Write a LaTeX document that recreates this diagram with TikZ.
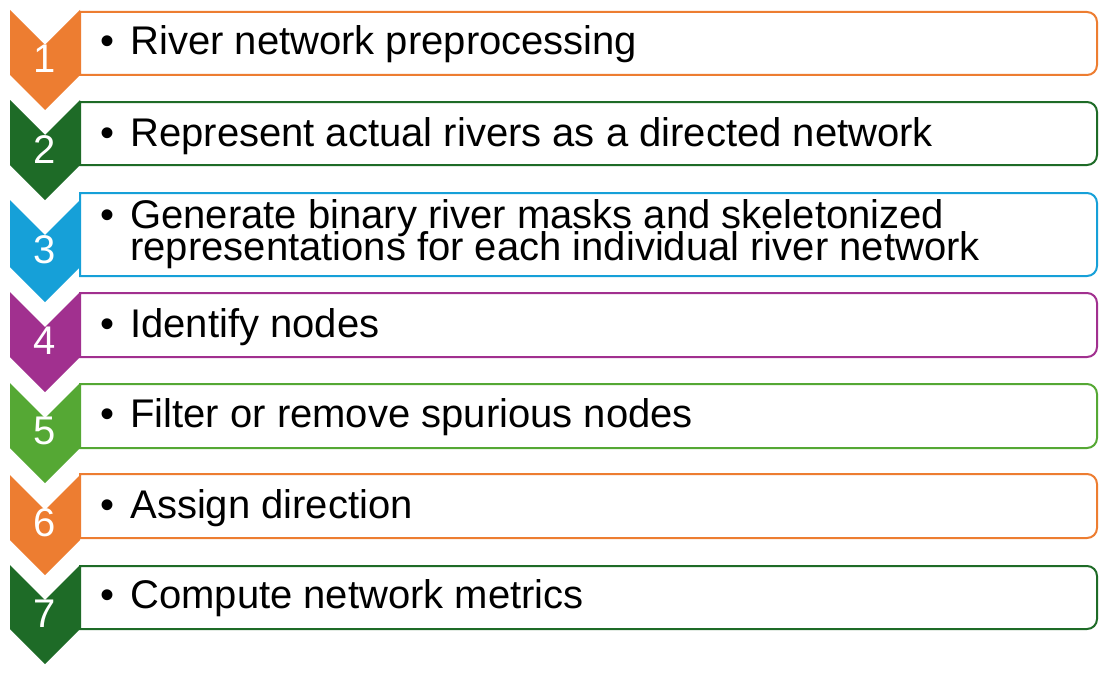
\documentclass[tikz,border=0pt]{standalone}
\usepackage{fontspec}
\setmainfont{Liberation Sans}
\usepackage{xcolor}
\usetikzlibrary{positioning}

\definecolor{stepOrange}{HTML}{ED7D31}
\definecolor{stepDarkGreen}{HTML}{1E6B27}
\definecolor{stepBlue}{HTML}{16A0D8}
\definecolor{stepPurple}{HTML}{A1308F}
\definecolor{stepGreen}{HTML}{55A834}

\newcommand{\stepfont}{\fontsize{20}{16}\selectfont\setlength{\lineskiplimit}{-100pt}}
\newcommand{\stepbullet}{\llap{\textbullet\hspace{8pt}}}

\tikzset{
  chevron/.style={fill=#1},
  stepbox/.style={draw=#1, line width=1pt, fill=white},
  stepnum/.style={text=white, anchor=base, inner sep=0pt, font=\fontsize{20}{20}\selectfont},
  steptext/.style={anchor=base west, align=left, inner sep=0pt, font=\stepfont},
}

\begin{document}
\begin{tikzpicture}[x=0.5pt, y=-0.5pt]
  \useasboundingbox (0,0) rectangle (1106,674);
  % boxes
  \draw[stepbox=stepOrange]    (80,12)  -- (1000,12)  [rounded corners=5pt] -- (1097,12)  -- (1097,75)  -- (1000,75)  [sharp corners] -- (80,75)  -- cycle;
  \draw[stepbox=stepDarkGreen] (80,102) -- (1000,102) [rounded corners=5pt] -- (1097,102) -- (1097,165) -- (1000,165) [sharp corners] -- (80,165) -- cycle;
  \draw[stepbox=stepBlue]      (80,193) -- (1000,193) [rounded corners=5pt] -- (1097,193) -- (1097,276) -- (1000,276) [sharp corners] -- (80,276) -- cycle;
  \draw[stepbox=stepPurple]    (80,293) -- (1000,293) [rounded corners=5pt] -- (1097,293) -- (1097,357) -- (1000,357) [sharp corners] -- (80,357) -- cycle;
  \draw[stepbox=stepGreen]     (80,384) -- (1000,384) [rounded corners=5pt] -- (1097,384) -- (1097,448) -- (1000,448) [sharp corners] -- (80,448) -- cycle;
  \draw[stepbox=stepOrange]    (80,474) -- (1000,474) [rounded corners=5pt] -- (1097,474) -- (1097,538) -- (1000,538) [sharp corners] -- (80,538) -- cycle;
  \draw[stepbox=stepDarkGreen] (80,566) -- (1000,566) [rounded corners=5pt] -- (1097,566) -- (1097,629) -- (1000,629) [sharp corners] -- (80,629) -- cycle;
  % chevrons
  \fill[chevron=stepOrange]    (10,10)  -- (45,45)  -- (80,10)  -- (80,75)  -- (45,110) -- (10,75)  -- cycle;
  \fill[chevron=stepDarkGreen] (10,100) -- (45,135) -- (80,100) -- (80,165) -- (45,200) -- (10,165) -- cycle;
  \fill[chevron=stepBlue]      (10,200) -- (45,235) -- (80,200) -- (80,267) -- (45,302) -- (10,267) -- cycle;
  \fill[chevron=stepPurple]    (10,292) -- (45,327) -- (80,292) -- (80,357) -- (45,392) -- (10,357) -- cycle;
  \fill[chevron=stepGreen]     (10,383) -- (45,418) -- (80,383) -- (80,448) -- (45,483) -- (10,448) -- cycle;
  \fill[chevron=stepOrange]    (10,475) -- (45,510) -- (80,475) -- (80,540) -- (45,575) -- (10,540) -- cycle;
  \fill[chevron=stepDarkGreen] (10,565) -- (45,600) -- (80,565) -- (80,629) -- (45,664) -- (10,629) -- cycle;
  % numbers
  \node[stepnum] (n1) at (45,73)  {1};
  \node[stepnum] (n2) at (45,163) {2};
  \node[stepnum] (n3) at (45,263) {3};
  \node[stepnum] (n4) at (45,354) {4};
  \node[stepnum] (n5) at (45,444) {5};
  \node[stepnum] (n6) at (45,536) {6};
  \node[stepnum] (n7) at (45,627) {7};
  % texts
  \node[steptext] (t1) at (130,55)  {\stepbullet River network preprocessing};
  \node[steptext] (t2) at (130,146) {\stepbullet Represent actual rivers as a directed network};
  \node[steptext] (t3) at (130,260) {\stepbullet Generate binary river masks and skeletonized\\representations for each individual river network};
  \node[steptext] (t4) at (130,337) {\stepbullet Identify nodes};
  \node[steptext] (t5) at (130,427) {\stepbullet Filter or remove spurious nodes};
  \node[steptext] (t6) at (130,518) {\stepbullet Assign direction};
  \node[steptext] (t7) at (130,608) {\stepbullet Compute network metrics};
\end{tikzpicture}
\end{document}
